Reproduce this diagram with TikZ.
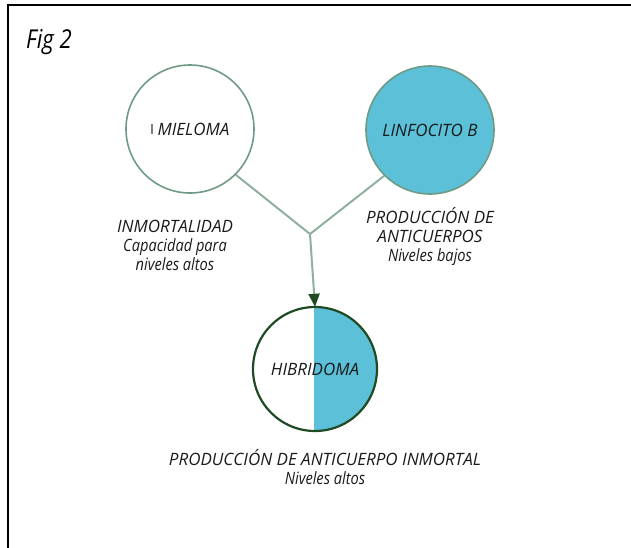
\documentclass[tikz,border=0pt]{standalone}
\usepackage{fontspec}
\setmainfont{Open Sans}
\usetikzlibrary{arrows.meta}
\definecolor{cellblue}{HTML}{5BC0D8}
\definecolor{rimgreen}{HTML}{6F9A85}
\definecolor{linkgreen}{HTML}{8FAF9F}
\definecolor{darkgreen}{HTML}{1F4A24}
\definecolor{inktext}{HTML}{1A1A1A}
\newcommand{\cond}[1]{\scalebox{0.86}[1]{#1}}
\tikzset{
  x=1pt, y=-1pt,
  cell/.style={circle, draw=rimgreen, line width=1.6pt, minimum size=128pt, inner sep=0pt, font=\itshape\fontsize{17}{20}\selectfont, text=inktext},
  link/.style={draw=linkgreen, line width=2pt},
  caption/.style={align=center, font=\itshape\fontsize{17}{19}\selectfont, text=inktext, inner sep=0pt},
}
\begin{document}
\begin{tikzpicture}
\useasboundingbox (0,0) rectangle (631,547);
\draw[line width=2pt, black] (8,560) -- (8,5) -- (640,5);
\node[anchor=west, font=\itshape\fontsize{26}{28}\selectfont, inner sep=0pt] (fig) at (26,42) {\scalebox{0.85}[1]{Fig 2}};
\node[cell, fill=white] (mie) at (190,129) {\hspace{7pt}MIELOMA};
\draw[gray, line width=1.2pt] (152,124) -- (152,134);
\node[cell, fill=cellblue] (lin) at (430,130) {LINFOCITO B};
\coordinate (j) at (310,234);
\draw[link] (mie.-45) -- (j);
\draw[link] (lin.-135) -- (j);
\node[circle, minimum size=124pt, inner sep=0pt] (hib) at (315,369) {};
\begin{scope}
\clip (hib.center) circle[radius=62pt];
\fill[cellblue] (314,300) rectangle (390,440);
\end{scope}
\draw[darkgreen, line width=2.2pt] (hib.center) circle[radius=62pt];
\node[font=\itshape\fontsize{17}{20}\selectfont, text=inktext] (hibl) at (315,369) {HIBRIDOMA};
\draw[link, -{Triangle[length=13pt, width=11pt, color=darkgreen]}] (j) -- (hib.north);
\node[caption] (t1) at (175,245) {INMORTALIDAD\\\cond{Capacidad para}\\\cond{niveles altos}};
\node[caption] (t2) at (430,236) {PRODUCCIÓN DE\\ANTICUERPOS\\\cond{Niveles bajos}};
\node[caption] (t3) at (325,467) {PRODUCCIÓN DE ANTICUERPO INMORTAL\\\cond{Niveles altos}};
\end{tikzpicture}
\end{document}
